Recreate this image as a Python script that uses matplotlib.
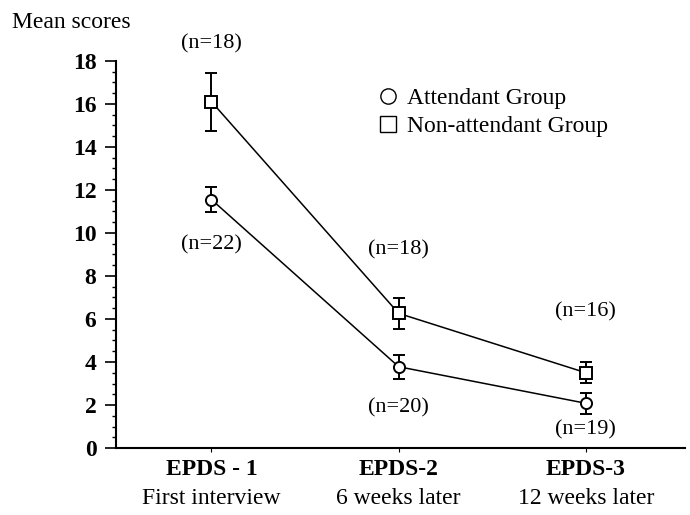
import matplotlib.pyplot as plt
from matplotlib.lines import Line2D
from matplotlib.ticker import MultipleLocator
import numpy as np

plt.rcParams['font.family'] = ['Liberation Serif', 'DejaVu Serif']

# Data
stages = ['EPDS - 1', 'EPDS-2', 'EPDS-3']
stage_notes = ['First interview', '6 weeks later', '12 weeks later']
attendant_mean = [11.55, 3.78, 2.08]
attendant_err = [0.6, 0.56, 0.5]
nonattendant_mean = [16.1, 6.26, 3.5]
nonattendant_err = [1.35, 0.73, 0.48]
attendant_n = ['(n=22)', '(n=20)', '(n=19)']
nonattendant_n = ['(n=18)', '(n=18)', '(n=16)']
attendant_n_y = [9.45, 1.85, 0.85]
nonattendant_n_y = [18.8, 9.2, 6.35]

x = np.arange(len(stages))

fig = plt.figure(figsize=(6.9, 5.15), dpi=100)
ax = fig.add_axes([0.168, 0.130, 0.825, 0.752])

ax.errorbar(x, nonattendant_mean, yerr=nonattendant_err, color='black', lw=1.1,
            marker='s', ms=8, mfc='white', mec='black', mew=1.4,
            capsize=4, elinewidth=1.4, capthick=1.4)
ax.errorbar(x, attendant_mean, yerr=attendant_err, color='black', lw=1.1,
            marker='o', ms=8, mfc='white', mec='black', mew=1.4,
            capsize=4, elinewidth=1.4, capthick=1.4)

for i in x:
    ax.text(i, attendant_n_y[i], attendant_n[i], ha='center', va='center',
            fontsize=16, clip_on=False)
    ax.text(i, nonattendant_n_y[i], nonattendant_n[i], ha='center', va='center',
            fontsize=16, clip_on=False)

ax.set_xlim(-0.51, 2.53)
ax.set_ylim(0, 18)
ax.yaxis.set_major_locator(MultipleLocator(2))
ax.yaxis.set_minor_locator(MultipleLocator(0.5))
ax.set_xticks(x)
ax.set_xticklabels(stages, fontweight='bold', fontsize=17)
for lab in ax.get_yticklabels():
    lab.set_fontweight('bold')
    lab.set_fontsize(17)
ax.tick_params(axis='y', which='major', length=8, width=1.2, pad=6)
ax.tick_params(axis='y', which='minor', length=3, width=1)
ax.tick_params(axis='x', length=3, pad=5)

for i in x:
    ax.text(i, -0.13, stage_notes[i], transform=ax.get_xaxis_transform(),
            ha='center', va='center', fontsize=17)

ax.spines['top'].set_visible(False)
ax.spines['right'].set_visible(False)
ax.spines['left'].set_linewidth(1.5)
ax.spines['bottom'].set_linewidth(1.5)

fig.text(0.017, 0.957, 'Mean scores', fontsize=17, ha='left', va='center')

handles = [Line2D([], [], ls='none', marker='o', ms=11, mfc='white', mec='black'),
           Line2D([], [], ls='none', marker='s', ms=12, mfc='white', mec='black')]
ax.legend(handles, ['Attendant Group', 'Non-attendant Group'], loc='upper left',
          bbox_to_anchor=(0.42, 0.985), frameon=False, fontsize=17,
          handletextpad=0.3, handlelength=1.0, labelspacing=0.25)

fig.savefig('out.png', dpi=100)
